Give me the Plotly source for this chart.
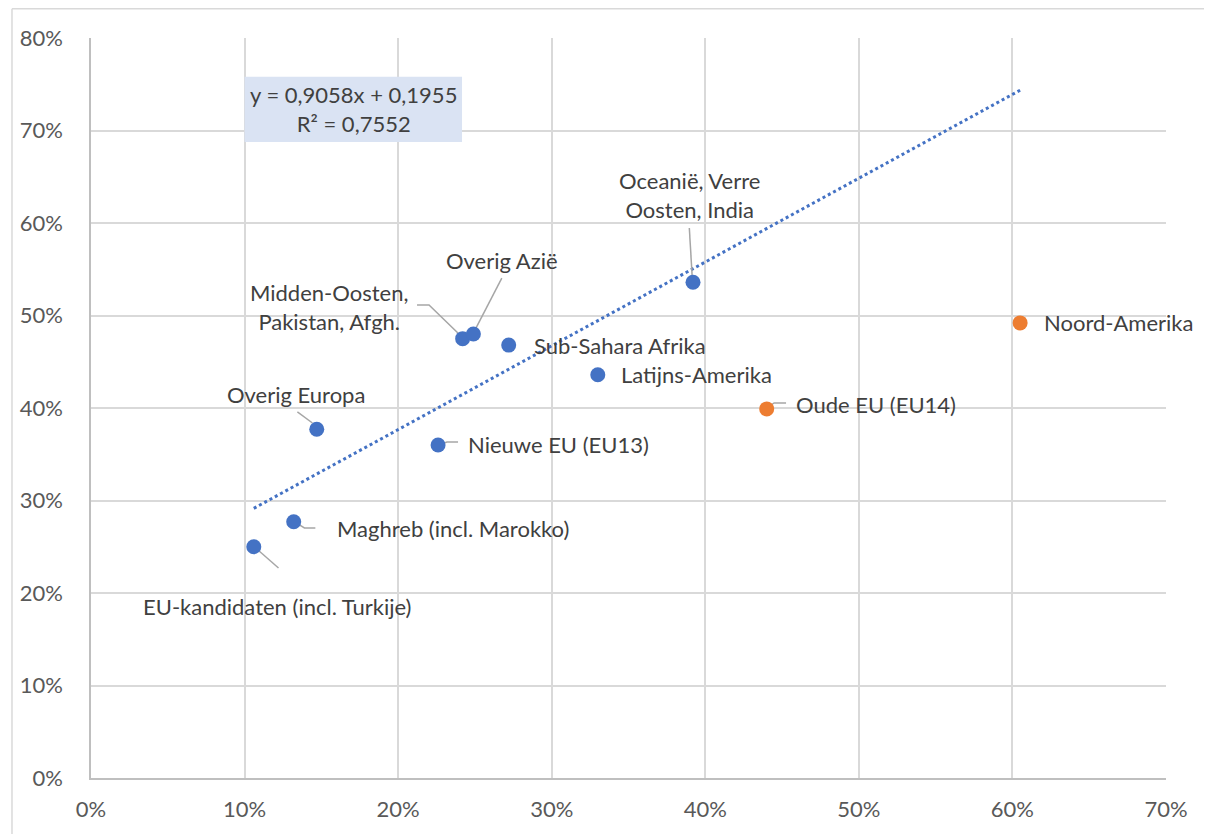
import plotly.graph_objects as go

# ---- data ----
names_blue = ["EU-kandidaten (incl. Turkije)", "Maghreb (incl. Marokko)", "Overig Europa",
              "Nieuwe EU (EU13)", "Midden-Oosten, Pakistan, Afgh.", "Overig Azië",
              "Sub-Sahara Afrika", "Latijns-Amerika", "Oceanië, Verre Oosten, India"]
x_blue = [0.106, 0.132, 0.147, 0.226, 0.242, 0.249, 0.272, 0.330, 0.392]
y_blue = [0.250, 0.277, 0.377, 0.360, 0.475, 0.480, 0.468, 0.436, 0.536]

names_orange = ["Oude EU (EU14)", "Noord-Amerika"]
x_orange = [0.440, 0.605]
y_orange = [0.399, 0.492]

slope = 0.9058
intercept = 0.1955
r2 = 0.7552

x_ticks = [0, 0.1, 0.2, 0.3, 0.4, 0.5, 0.6, 0.7]
x_tick_labels = ["0%", "10%", "20%", "30%", "40%", "50%", "60%", "70%"]
y_ticks = [0, 0.1, 0.2, 0.3, 0.4, 0.5, 0.6, 0.7, 0.8]
y_tick_labels = ["0%", "10%", "20%", "30%", "40%", "50%", "60%", "70%", "80%"]

BLUE = "#4472c4"
ORANGE = "#ed7d31"
TXT = "#404040"
FONT = "Lato"
FS = 22

fig = go.Figure()

# trendline
all_x = x_blue + x_orange
tx = [min(all_x), max(all_x)]
ty = [slope * v + intercept for v in tx]
fig.add_trace(go.Scatter(x=tx, y=ty, mode="lines",
                         line=dict(color=BLUE, width=3, dash="dot"),
                         hoverinfo="skip", showlegend=False))

# leader lines
leaders = [
    ([0.1344, 0.1442], [0.3957, 0.3838]),
    ([0.2123, 0.2201, 0.2416], [0.5114, 0.5114, 0.4768]),
    ([0.2675, 0.2494], [0.5405, 0.4822]),
    ([0.3896, 0.3916], [0.5946, 0.5384]),
    ([0.1325, 0.1390, 0.1461], [0.2768, 0.2703, 0.2703]),
    ([0.1065, 0.1221], [0.2497, 0.2270]),
    ([0.2266, 0.2318, 0.2390], [0.3600, 0.3632, 0.3632]),
    ([0.4403, 0.4448, 0.4526], [0.4000, 0.4054, 0.4054]),
]
for lx, ly in leaders:
    fig.add_trace(go.Scatter(x=lx, y=ly, mode="lines",
                             line=dict(color="#a6a6a6", width=1.5),
                             hoverinfo="skip", showlegend=False))

fig.add_trace(go.Scatter(x=x_blue, y=y_blue, mode="markers", text=names_blue,
                         marker=dict(color=BLUE, size=15), showlegend=False))
fig.add_trace(go.Scatter(x=x_orange, y=y_orange, mode="markers", text=names_orange,
                         marker=dict(color=ORANGE, size=15), showlegend=False))

# labels: (text, x, y, xanchor)
labels = [
    ("EU-kandidaten (incl. Turkije)", 0.1214, 0.185, "center"),
    ("Maghreb (incl. Marokko)", 0.159, 0.270, "left"),
    ("Overig Europa", 0.1338, 0.415, "center"),
    ("Nieuwe EU (EU13)", 0.2442, 0.361, "left"),
    ("Midden-Oosten,<br>Pakistan, Afgh.", 0.155, 0.509, "center"),
    ("Overig Azië", 0.2675, 0.560, "center"),
    ("Sub-Sahara Afrika", 0.287, 0.468, "left"),
    ("Latijns-Amerika", 0.344, 0.4357, "left"),
    ("Oceanië, Verre<br>Oosten, India", 0.3896, 0.630, "center"),
    ("Oude EU (EU14)", 0.4578, 0.4043, "left"),
    ("Noord-Amerika", 0.6195, 0.492, "left"),
]
for t, lx, ly, xa in labels:
    fig.add_annotation(x=lx, y=ly, text=t, showarrow=False, xanchor=xa, yanchor="middle",
                       align="center", font=dict(family=FONT, size=FS, color=TXT))

# equation box
fig.add_shape(type="rect", xref="x", yref="y", x0=0.1, x1=0.2416, y0=0.6876, y1=0.758,
              fillcolor="#dae3f3", line=dict(width=0), layer="above")
fig.add_annotation(x=0.1708, y=0.7228, showarrow=False, align="center",
                   text=f"y = {str(slope).replace('.', ',')}x + {str(intercept).replace('.', ',')}<br>R² = {str(r2).replace('.', ',')}",
                   font=dict(family=FONT, size=FS, color=TXT))

# outer border (top and left edges visible)
fig.add_shape(type="line", xref="paper", yref="paper", x0=-0.0735, x1=1.3, y0=1.0395, y1=1.0395,
              line=dict(color="#d9d9d9", width=1.5), layer="below")
fig.add_shape(type="line", xref="paper", yref="paper", x0=-0.0735, x1=-0.0735, y0=-0.3, y1=1.0395,
              line=dict(color="#d9d9d9", width=1.5), layer="below")

fig.update_xaxes(range=[0, 0.7], tickvals=x_ticks, ticktext=x_tick_labels,
                 showgrid=True, gridcolor="#d9d9d9", gridwidth=1.5,
                 showline=True, linecolor="#bfbfbf", linewidth=1.5, zeroline=False,
                 ticks="", tickfont=dict(family=FONT, size=FS, color="#595959"), ticklabelstandoff=11)
fig.update_yaxes(range=[0, 0.8], tickvals=y_ticks, ticktext=y_tick_labels,
                 showgrid=True, gridcolor="#d9d9d9", gridwidth=1.5,
                 showline=True, linecolor="#bfbfbf", linewidth=1.5, zeroline=False,
                 ticks="", tickfont=dict(family=FONT, size=FS, color="#595959"), ticklabelstandoff=22)

fig.update_layout(width=1204, height=826, margin=dict(l=80, r=46, t=30, b=48),
                  plot_bgcolor="white", paper_bgcolor="white", showlegend=False)

fig.write_html("out.html")
